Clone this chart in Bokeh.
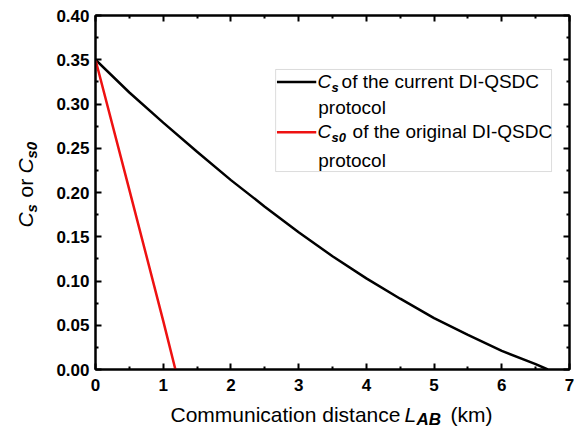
from bokeh.plotting import figure
from bokeh.layouts import row, column
from bokeh.models import (Label, BoxAnnotation, LinearAxis, FixedTicker,
                          NumeralTickFormatter, CustomJSTickFormatter, Range1d)
from bokeh.embed import file_html
from bokeh.resources import INLINE
import math

# ---- data ----
dist_current = [0.0, 0.5, 1.0, 1.5, 2.0, 2.5, 3.0, 3.5, 4.0, 4.5, 5.0, 5.5, 6.0, 6.5, 6.68]
cs_current = [0.350, 0.313, 0.279, 0.246, 0.214, 0.184, 0.155, 0.128, 0.103, 0.080,
              0.058, 0.039, 0.021, 0.006, 0.0]
dist_original = [0.0, 0.5, 1.0, 1.18]
cs_original = [0.350, 0.203, 0.055, 0.0]

x_ticks = [0, 1, 2, 3, 4, 5, 6, 7]
x_minor = [0.5, 1.5, 2.5, 3.5, 4.5, 5.5, 6.5]
y_ticks = [0.0, 0.05, 0.10, 0.15, 0.20, 0.25, 0.30, 0.35, 0.40]
y_minor = [0.025, 0.075, 0.125, 0.175, 0.225, 0.275, 0.325, 0.375]

FONT = "Liberation Sans"
RED = "#ee1111"

TOTAL_W, TOTAL_H = 574, 430
YT_W = 40          # width of the y-title strip
MAIN_H = 393       # height of the main plot
XT_H = TOTAL_H - MAIN_H

p = figure(width=TOTAL_W - YT_W, height=MAIN_H, output_backend="svg", toolbar_location=None,
           title=None, x_range=Range1d(0, 7), y_range=Range1d(0, 0.40), frame_align=False,
           min_border_left=55, min_border_right=5, min_border_top=15, min_border_bottom=24)
p.grid.visible = False
p.outline_line_color = "black"
p.outline_line_width = 2
p.background_fill_color = "white"
p.border_fill_color = "white"

p.xaxis.ticker = FixedTicker(ticks=x_ticks, minor_ticks=x_minor)
p.yaxis.ticker = FixedTicker(ticks=y_ticks, minor_ticks=y_minor)
p.yaxis.formatter = NumeralTickFormatter(format="0.00")

def style_axis(ax):
    ax.axis_line_width = 2
    ax.axis_line_color = "black"
    ax.major_tick_in = 6
    ax.major_tick_out = 0
    ax.minor_tick_in = 3
    ax.minor_tick_out = 0
    ax.major_tick_line_width = 2
    ax.minor_tick_line_width = 2
    ax.major_label_text_font = FONT
    ax.major_label_text_font_size = "17px"
    ax.major_label_text_font_style = "bold"
    ax.major_label_text_color = "black"

for ax in p.xaxis + p.yaxis:
    style_axis(ax)
p.xaxis.major_label_standoff = 9
p.yaxis.major_label_standoff = 6

top = LinearAxis(ticker=FixedTicker(ticks=x_ticks, minor_ticks=x_minor),
                 formatter=CustomJSTickFormatter(code="return ''"), major_label_standoff=0)
right = LinearAxis(ticker=FixedTicker(ticks=y_ticks, minor_ticks=y_minor),
                   formatter=CustomJSTickFormatter(code="return ''"), major_label_standoff=0)
style_axis(top)
style_axis(right)
p.add_layout(top, "above")
p.add_layout(right, "right")

# ---- curves ----
p.line(dist_current, cs_current, line_color="black", line_width=2.5)
p.line(dist_original, cs_original, line_color=RED, line_width=2.5)

# ---- legend (drawn by hand for subscripts) ----
p.add_layout(BoxAnnotation(left=2.66, right=6.735, bottom=0.2237, top=0.339,
                           fill_color="white", fill_alpha=1.0, level="underlay",
                           line_color="#8a8a8a", line_width=1))
p.segment(x0=[2.68, 2.68], y0=[0.325, 0.268], x1=[3.26, 3.26], y1=[0.325, 0.268],
          line_color=["black", RED], line_width=2.5)

def lab(fig, x, y, text, size, style, xo=0, yo=0, angle=0.0):
    # anchor behaves as the text's vertical centre: shift so (x, y) is the baseline
    shift = 0.35 * size
    if angle:
        xo = xo - shift
    else:
        yo = yo + shift
    fig.add_layout(Label(x=x, y=y, text=text, x_offset=xo, y_offset=yo,
                         text_font=FONT, text_font_size=f"{size}px",
                         text_font_style=style, angle=angle,
                         text_align="left", text_baseline="alphabetic",
                         text_color="black"))

lab(p, 3.28, 0.3175, "C", 19, "italic")
lab(p, 3.28, 0.3175, "s", 13, "bold italic", xo=14, yo=-4)
lab(p, 3.28, 0.3175, "of the current DI-QSDC", 19, "normal", xo=24)
lab(p, 3.29, 0.288, "protocol", 19, "normal")
lab(p, 3.28, 0.261, "C", 19, "italic")
lab(p, 3.28, 0.261, "s0", 13, "bold italic", xo=14, yo=-4)
lab(p, 3.28, 0.261, "of the original DI-QSDC", 19, "normal", xo=35)
lab(p, 3.29, 0.229, "protocol", 19, "normal")

def blank(w, h):
    f = figure(width=w, height=h, output_backend="svg", toolbar_location=None, title=None,
               x_range=Range1d(0, w), y_range=Range1d(0, h), frame_align=False,
               x_axis_type=None, y_axis_type=None, min_border=0,
               min_border_left=0, min_border_right=0, min_border_top=0, min_border_bottom=0)
    f.grid.visible = False
    f.outline_line_color = None
    f.background_fill_color = "white"
    f.border_fill_color = "white"
    return f

# ---- y axis title (rotated), pixel units in its own strip ----
yt = blank(YT_W, MAIN_H)
ang = math.pi / 2
bx, by = 32, MAIN_H - 227
lab(yt, bx, by, "C", 21, "italic", angle=ang)
lab(yt, bx + 4, by + 15, "s", 15, "bold italic", angle=ang)
lab(yt, bx, by + 30, "or", 21, "normal", angle=ang)
lab(yt, bx, by + 54, "C", 21, "italic", angle=ang)
lab(yt, bx + 4, by + 69, "s0", 15, "bold italic", angle=ang)

# ---- x axis title, pixel units in its own strip ----
xt = blank(TOTAL_W, XT_H)
sx, sy = 170, 9
lab(xt, sx, sy, "Communication distance", 21, "normal")
lab(xt, sx + 234, sy, "L", 21, "italic")
lab(xt, sx + 246, sy - 4, "AB", 17, "bold italic")
lab(xt, sx + 280, sy, "(km)", 21, "normal")

layout = column(row(yt, p, spacing=0), xt, spacing=0)
open("out.html", "w").write(file_html(layout, INLINE))
